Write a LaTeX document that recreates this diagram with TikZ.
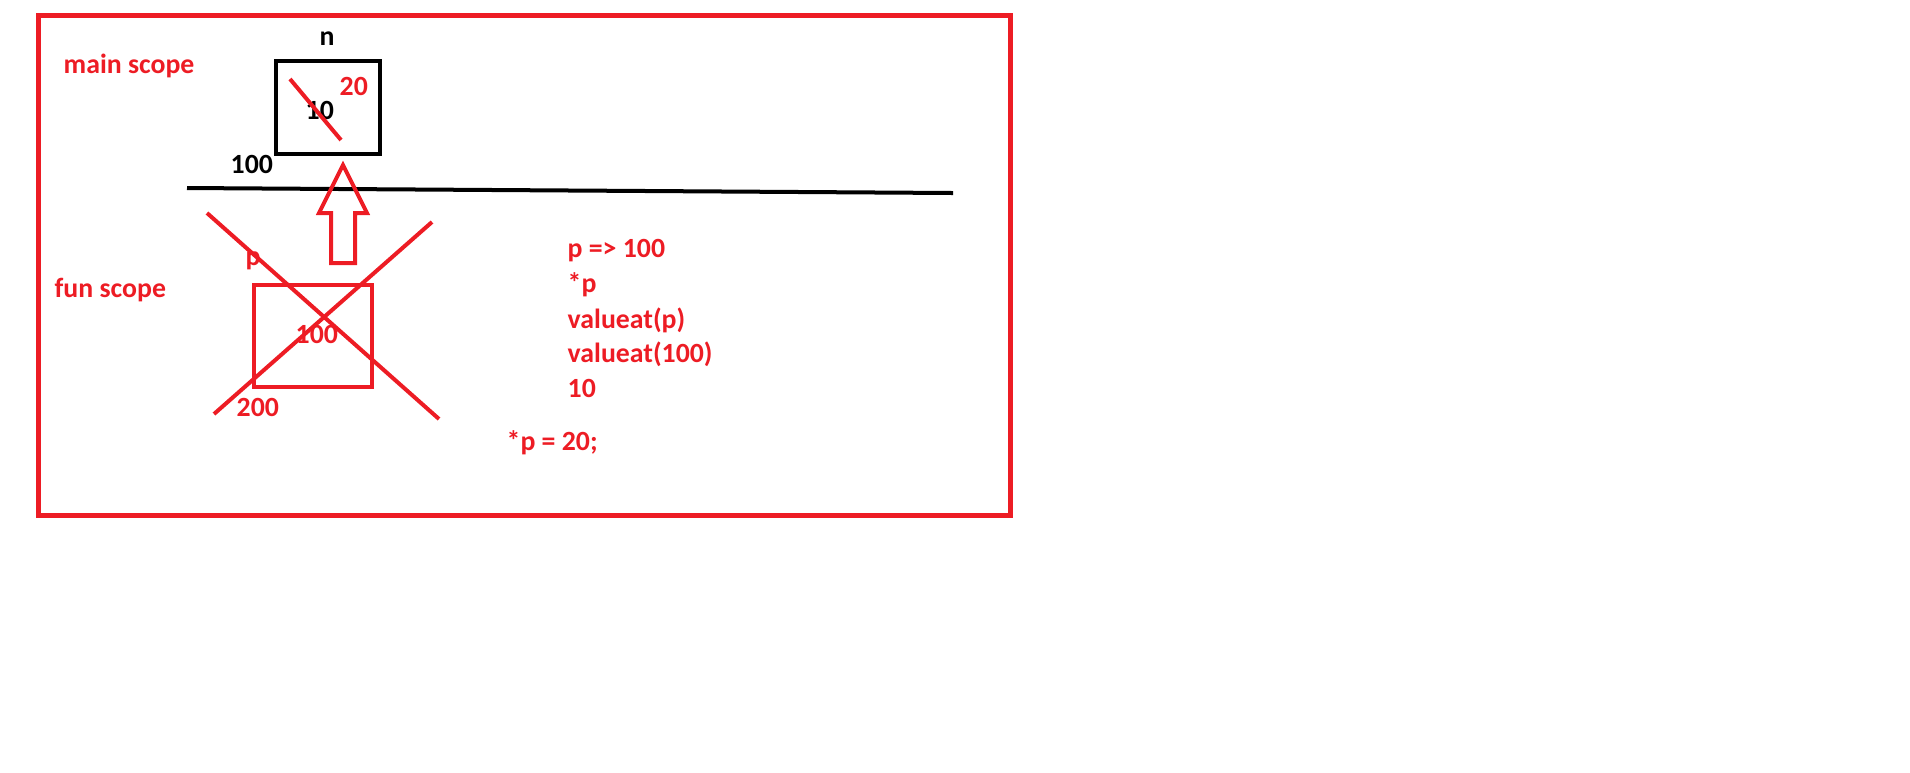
\documentclass[tikz,border=0pt]{standalone}
\usepackage{fontspec}
\setmainfont{Carlito}
\usetikzlibrary{positioning}

\definecolor{pred}{RGB}{237,28,36}

\begin{document}
\begin{tikzpicture}[
    x=0.01cm, y=-0.01cm,
    txt/.style={anchor=base west, inner sep=0pt, font=\fontsize{7.9pt}{9.5pt}\selectfont\bfseries},
    redtxt/.style={txt, text=pred},
    cell/.style={rectangle, draw, line width=0.045cm, inner sep=0pt},
    cross/.style={draw=pred, line width=0.04cm}
  ]
  \useasboundingbox (0,0) rectangle (1910,772);

  % Marco exterior
  \draw[pred, line width=0.05cm] (38.5,15) rectangle (1010.5,515.5);

  % Etiquetas de los ambitos
  \node[redtxt] (mainlbl) at (63,73) {main scope};
  \node[redtxt] (funlbl) at (54,297) {fun scope};

  % Variable n en main
  \node[cell, minimum width=1.04cm, minimum height=0.93cm] (nbox) at (328,107.5) {};
  \node[txt, anchor=base] (nlbl) at (327,45) {n};
  \node[txt] (nold) at (305,119) {10};
  \node[redtxt] (nnew) at (339,95) {20};
  \node[txt] (naddr) at (230,173) {100};
  \draw[cross] (290,79) -- (341,140);

  % Separacion entre ambitos
  \coordinate (lineL) at (187,188);
  \coordinate (lineR) at (953,193);
  \draw[line width=0.04cm] (lineL) -- (lineR);

  % Flecha hacia n
  \draw[pred, line width=0.04cm, line join=miter]
    (343,165) -- (367,213) -- (355,213) -- (355,263) -- (331,263) -- (331,213) -- (319,213) -- cycle;

  % Puntero p en fun
  \node[cell, draw=pred, minimum width=1.18cm, minimum height=1.02cm] (pbox) at (313,336) {};
  \node[redtxt] (plbl) at (245,265) {p};
  \node[redtxt] (pval) at (295,343) {100};
  \node[redtxt] (paddr) at (236,416) {200};
  \draw[cross] (207,213) -- (439,419);
  \draw[cross] (432,222) -- (214,414);

  % Notas
  \foreach \y/\t in {257/{p => 100}, 292/{*p}, 328/{valueat(p)}, 362/{valueat(100)}, 397/{10}} {
    \node[redtxt] at (567,\y) {\t};
  }
  \node[redtxt] (assign) at (506,450) {*p = 20;};
\end{tikzpicture}
\end{document}
